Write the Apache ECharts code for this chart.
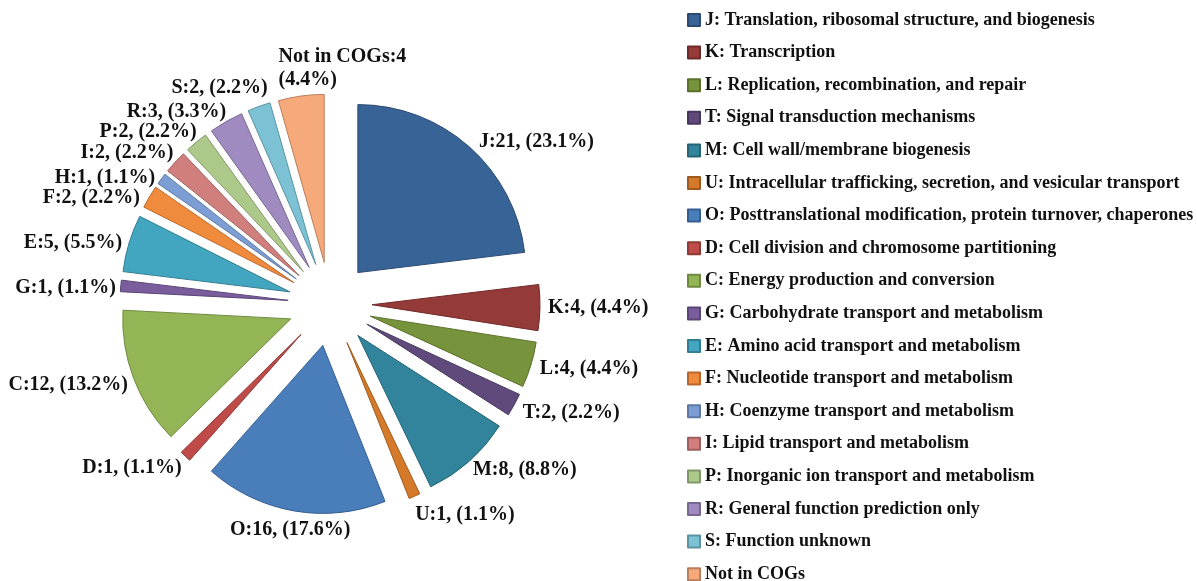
<!DOCTYPE html>
<html>
<head>
<meta charset="utf-8">
<script src="https://cdn.jsdelivr.net/npm/echarts@6/dist/echarts.min.js"></script>
<style>
  html, body { margin: 0; padding: 0; background: #fff; }
  #main { width: 1197px; height: 581px; }
</style>
</head>
<body>
<div id="main"></div>
<script>
var codes = ['J', 'K', 'L', 'T', 'M', 'U', 'O', 'D', 'C', 'G', 'E', 'F', 'H', 'I', 'P', 'R', 'S', 'Not in COGs'];
var counts = [21, 4, 4, 2, 8, 1, 16, 1, 12, 1, 5, 2, 1, 2, 2, 3, 2, 4];
var percents = ['23.1', '4.4', '4.4', '2.2', '8.8', '1.1', '17.6', '1.1', '13.2', '1.1', '5.5', '2.2', '1.1', '2.2', '2.2', '3.3', '2.2', '4.4'];
var descriptions = [
    'J: Translation, ribosomal structure, and biogenesis',
    'K: Transcription',
    'L: Replication, recombination, and repair',
    'T: Signal transduction mechanisms',
    'M: Cell wall/membrane biogenesis',
    'U: Intracellular trafficking, secretion, and vesicular transport',
    'O: Posttranslational modification, protein turnover, chaperones',
    'D: Cell division and chromosome partitioning',
    'C: Energy production and conversion',
    'G: Carbohydrate transport and metabolism',
    'E: Amino acid transport and metabolism',
    'F: Nucleotide transport and metabolism',
    'H: Coenzyme transport and metabolism',
    'I: Lipid transport and metabolism',
    'P: Inorganic ion transport and metabolism',
    'R: General function prediction only',
    'S: Function unknown',
    'Not in COGs'
];
var colors = ['#386396', '#943a38', '#77933c', '#5f4a7b', '#31849b', '#d47a2a', '#4a7ebb', '#be4b48',
    '#93b556', '#7a5d9c', '#43a6c0', '#f08a3c', '#7c9ed4', '#d17f7d', '#adc98a', '#a08bc0', '#7cc2d4', '#f6a97a'];
var borders = ['#2a4a72', '#6f2a29', '#5a702c', '#47375c', '#246375', '#a05a1e', '#365f91', '#8f3836',
    '#6f8a40', '#5b4576', '#327d91', '#b8682c', '#5d78a2', '#9e5f5e', '#83986a', '#786992', '#5d93a1', '#ba7f5c'];

// small nudges so the labels sit where the original placed them
var labelNudge = {
    0: [7, -2], 1: [4, 0], 2: [5, 3], 3: [5, 6], 4: [1, 6], 5: [-1, 15],
    6: [-3, 15, 'center'], 7: [-1, 9], 8: [-2, 5], 9: [-1, 2], 10: [-3, 1], 11: [-6, 3],
    12: [-3, 1], 13: [1, -7], 14: [3, -7], 15: [2, -6], 16: [10, -15], 17: [-22, -24, 'left']
};

window.onload = function () {
    var chart = echarts.init(document.getElementById('main'));
    var fontFamily = '"Liberation Serif", "Times New Roman", serif';

    var pieData = [];
    for (var i = 0; i < codes.length; i++) {
        var lbl = codes[i] + ':' + counts[i] + (i === codes.length - 1 ? '\n' : ', ') + '(' + percents[i] + '%)';
        pieData.push({
            name: descriptions[i],
            value: counts[i],
            selected: true,
            lbl: lbl,
            itemStyle: { color: colors[i], borderColor: borders[i], borderWidth: 1 }
        });
    }

    chart.setOption({
        animation: false,
        legend: {
            orient: 'vertical',
            left: 687,
            top: 11,
            height: 575,
            padding: 0,
            itemWidth: 12,
            itemHeight: 12,
            itemGap: 14.6,
            selectedMode: false,
            icon: 'rect',
            textStyle: {
                fontFamily: fontFamily,
                fontWeight: 'bold',
                fontSize: 18,
                color: '#111'
            },
            data: descriptions
        },
        series: [{
            type: 'pie',
            center: [330, 304],
            radius: 168,
            startAngle: 90,
            clockwise: true,
            selectedMode: 'multiple',
            selectedOffset: 42,
            avoidLabelOverlap: false,
            label: {
                show: true,
                position: 'outside',
                distanceToLabelLine: 0,
                fontFamily: fontFamily,
                fontWeight: 'bold',
                fontSize: 20,
                lineHeight: 23,
                color: '#111',
                formatter: function (p) {
                    return p.data.lbl;
                }
            },
            labelLine: { show: false, length: 4, length2: 0 },
            labelLayout: function (params) {
                var n = labelNudge[params.dataIndex] || [0, 0];
                var out = { dx: n[0], dy: n[1], hideOverlap: false, moveOverlap: false };
                if (n[2]) out.align = n[2];
                return out;
            },
            emphasis: { disabled: true },
            data: pieData
        }]
    });
};
</script>
</body>
</html>
